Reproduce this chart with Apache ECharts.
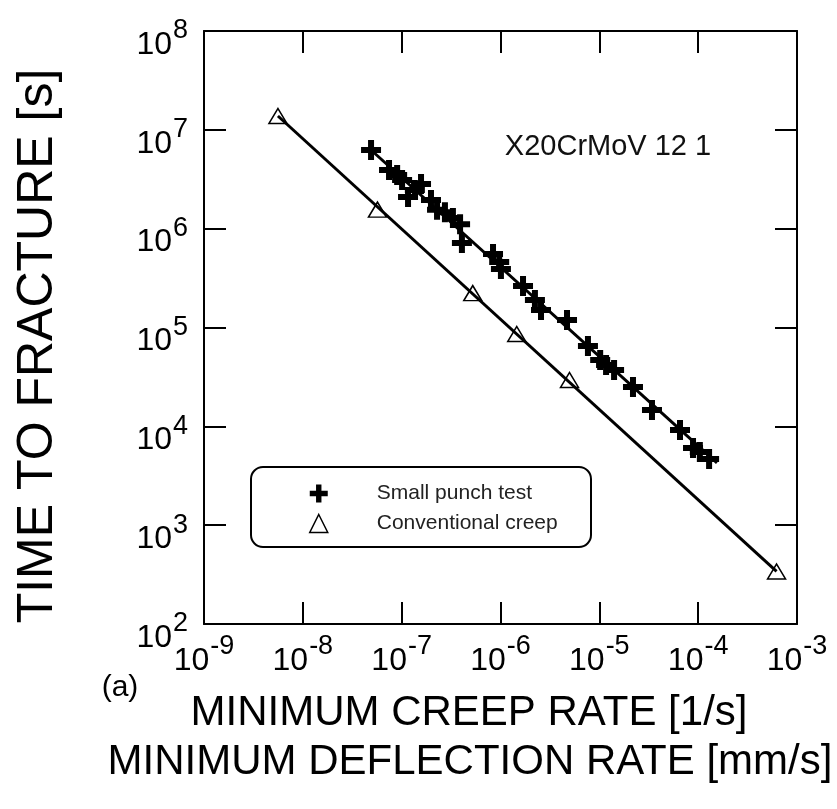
<!DOCTYPE html>
<html>
<head>
<meta charset="utf-8">
<title>X20CrMoV 12 1 creep</title>
<script src="https://cdn.jsdelivr.net/npm/echarts@6/dist/echarts.min.js"></script>
<style>
  html, body { margin: 0; padding: 0; background: #fff; }
  #chart { width: 837px; height: 809px; }
</style>
</head>
<body>
<div id="chart"></div>
<script>
// small punch test: minimum deflection rate [mm/s] vs time to fracture [s]
const spRate = [4.9e-8, 7.45e-8, 9.0e-8, 1.01e-7, 1.57e-7, 1.36e-7, 1.16e-7, 1.98e-7, 2.28e-7, 2.74e-7,
  3.3e-7, 3.9e-7, 4.07e-7, 8.4e-7, 9.7e-7, 1.01e-6, 1.69e-6, 2.23e-6, 2.57e-6, 4.71e-6,
  7.67e-6, 1.02e-5, 1.17e-5, 1.41e-5, 2.19e-5, 3.41e-5, 6.55e-5, 8.87e-5, 1.04e-4, 1.29e-4];
const spLife = [6.25e6, 3.92e6, 3.49e6, 3.11e6, 2.83e6, 2.46e6, 2.09e6, 1.95e6, 1.55e6, 1.47e6,
  1.28e6, 1.11e6, 7.16e5, 5.54e5, 4.6e5, 3.91e5, 2.63e5, 1.9e5, 1.5e5, 1.19e5,
  6.5e4, 4.69e4, 4.18e4, 3.72e4, 2.5e4, 1.46e4, 9.18e3, 6.04e3, 5.5e3, 4.68e3];

// conventional creep: minimum creep rate [1/s] vs time to fracture [s]
const ccRate = [5.6e-9, 5.69e-8, 5.24e-7, 1.46e-6, 4.99e-6, 6.21e-4];
const ccLife = [1.38e7, 1.56e6, 2.23e5, 8.6e4, 2.94e4, 340];

// fitted lines (end points)
const spFitRate = [4.9e-8, 1.55e-4];
const spFitLife = [6.25e6, 4.26e3];
const ccFitRate = [5.6e-9, 6.21e-4];
const ccFitLife = [1.38e7, 340];

const FONT = 'Liberation Sans, Arial, sans-serif';
const crossPath = 'path://M7,0h6v7h7v6h-7v7h-6v-7h-7v-6h7z';

const zip = (a, b) => a.map((v, i) => [v, b[i]]);
const expLabel = v => '{b|10}{e|' + Math.round(Math.log10(v)) + '}';
// both tokens 40px tall so the exponent sits ~14px above the base
const labelRich = {
  b: { fontSize: 32, lineHeight: 30, padding: [10, 0, 0, 0], fontFamily: FONT, color: '#000' },
  e: { fontSize: 27, lineHeight: 22, padding: [0, 0, 18, 1], fontFamily: FONT, color: '#000' }
};
const axisLine = { show: true, lineStyle: { color: '#000', width: 2 } };
const axisTick = { show: true, inside: true, length: 22, lineStyle: { color: '#000', width: 2 } };

const chart = echarts.init(document.getElementById('chart'));

const option = {
  backgroundColor: '#fff',
  animation: false,
  grid: { left: 204, top: 31, width: 593, height: 593, outerBoundsMode: 'none' },
  xAxis: [
    {
      type: 'log', logBase: 10, min: 1e-9, max: 1e-3, splitNumber: 6, position: 'bottom',
      axisLine, axisTick, splitLine: { show: false }, minorTick: { show: false },
      axisLabel: { margin: 17, formatter: expLabel, rich: labelRich, showMinLabel: true, showMaxLabel: true }
    },
    {
      type: 'log', logBase: 10, min: 1e-9, max: 1e-3, splitNumber: 6, position: 'top',
      axisLine, axisTick, splitLine: { show: false }, axisLabel: { show: false }
    }
  ],
  yAxis: [
    {
      type: 'log', logBase: 10, min: 1e2, max: 1e8, splitNumber: 6, position: 'left',
      axisLine, axisTick, splitLine: { show: false }, minorTick: { show: false },
      axisLabel: { margin: 16, formatter: expLabel, rich: labelRich, padding: [18, 0, 0, 0], showMinLabel: true, showMaxLabel: true }
    },
    {
      type: 'log', logBase: 10, min: 1e2, max: 1e8, splitNumber: 6, position: 'right',
      axisLine, axisTick, splitLine: { show: false }, axisLabel: { show: false }
    }
  ],
  legend: {
    orient: 'vertical', left: 304, top: 478, itemWidth: 18, itemHeight: 18, itemGap: 9,
    textStyle: { fontFamily: FONT, fontSize: 21, color: '#222', padding: [0, 0, 0, 44] },
    data: [
      { name: 'Small punch test', icon: crossPath },
      { name: 'Conventional creep', icon: 'triangle', itemStyle: { color: 'rgba(0,0,0,0)', borderColor: '#000', borderWidth: 1.5 } }
    ]
  },
  graphic: [
    {
      type: 'rect', shape: { x: 251, y: 467, width: 340, height: 80, r: 12 },
      style: { fill: '#fff', stroke: '#000', lineWidth: 2 }, z: 0
    },
    {
      type: 'text', x: 608, y: 147,
      style: { text: 'X20CrMoV 12 1', font: '29px ' + FONT, fill: '#111', align: 'center', verticalAlign: 'middle' }
    },
    {
      type: 'text', x: 38, y: 346, rotation: Math.PI / 2,
      style: { text: 'TIME TO FRACTURE [s]', font: '50px ' + FONT, fill: '#000', align: 'center', verticalAlign: 'middle' }
    },
    {
      type: 'text', x: 120, y: 688,
      style: { text: '(a)', font: '30px ' + FONT, fill: '#000', align: 'center', verticalAlign: 'middle' }
    },
    {
      type: 'text', x: 469, y: 713,
      style: { text: 'MINIMUM CREEP RATE [1/s]', font: '42px ' + FONT, fill: '#000', align: 'center', verticalAlign: 'middle' }
    },
    {
      type: 'text', x: 470, y: 762,
      style: { text: 'MINIMUM DEFLECTION RATE [mm/s]', font: '42px ' + FONT, fill: '#000', align: 'center', verticalAlign: 'middle' }
    }
  ],
  series: [
    {
      name: 'SP fit', type: 'line', data: zip(spFitRate, spFitLife), showSymbol: false,
      lineStyle: { color: '#000', width: 3 }, z: 2
    },
    {
      name: 'CC fit', type: 'line', data: zip(ccFitRate, ccFitLife), showSymbol: false,
      lineStyle: { color: '#000', width: 3 }, z: 2
    },
    {
      name: 'Small punch test', type: 'scatter', data: zip(spRate, spLife),
      symbol: crossPath, symbolSize: 20, itemStyle: { color: '#000', opacity: 1 }, z: 3
    },
    {
      name: 'Conventional creep', type: 'scatter', data: zip(ccRate, ccLife),
      symbol: 'triangle', symbolSize: [18, 15],
      itemStyle: { color: 'rgba(0,0,0,0)', borderColor: '#000', borderWidth: 1.5, opacity: 1 }, z: 3
    }
  ]
};

chart.setOption(option);
</script>
</body>
</html>
